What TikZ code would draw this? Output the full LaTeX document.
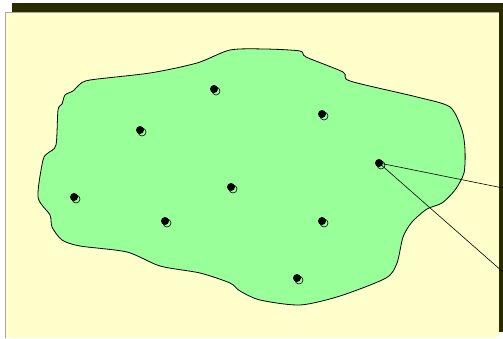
\documentclass[tikz,border=0pt]{standalone}
\begin{document}
\begin{tikzpicture}[x=1pt,y=-1pt,
  blob/.style={fill=blobgreen,draw=black,line width=0.8pt},
  dotcore/.style={circle,fill=black,inner sep=0pt,minimum size=8pt},
  connector/.style={draw=black,line width=0.6pt}]
\definecolor{panelyellow}{HTML}{FFFFCC}
\definecolor{blobgreen}{HTML}{99FF99}
\definecolor{shadowdark}{HTML}{2B2B00}
\useasboundingbox (0,0) rectangle (503,338);
\fill[white] (0,0) rectangle (503,338);
% shadow and panel
\fill[shadowdark] (12,3) rectangle (503,332);
\fill[panelyellow] (5,12) rectangle (499,338);
\draw[gray!70,line width=1pt] (5.5,338) -- (5.5,12.5) -- (499,12.5);
% blob
\draw[blob] plot[smooth cycle,tension=0.45] coordinates {
 (230,50) (265,49) (300,51) (306,57) (343,72) (350,81) (417,97) (450,107)
 (462,130) (465,150) (464,173) (455,190) (442,203) (427,209) (412,222)
 (403,237) (397,263) (386,278) (340,296) (300,305) (260,300) (240,291)
 (230,283) (200,273) (160,266) (127,252) (80,246) (62,240) (52,227)
 (50,215) (38,197) (43,160) (48,153) (56,145) (58,110) (62,104) (65,95)
 (73,91) (79,85) (90,80) (150,73) (197,63)};
% dots
\foreach \n/\x/\y in {d1/214/89, d2/322/114, d3/140/130, d4/379/163, d5/231/187,
                      d6/74/197, d7/165/221, d8/322/221, d9/297/278} {
  \draw[black,line width=0.6pt,fill=blobgreen] (\x+2,\y+2) circle (4);
  \node[dotcore] (\n) at (\x,\y) {};
}
\coordinate (e1) at (503,188);
\coordinate (e2) at (503,272);
\draw[connector] (d4.center) -- (e1);
\draw[connector] (d4.center) -- (e2);
\end{tikzpicture}
\end{document}
